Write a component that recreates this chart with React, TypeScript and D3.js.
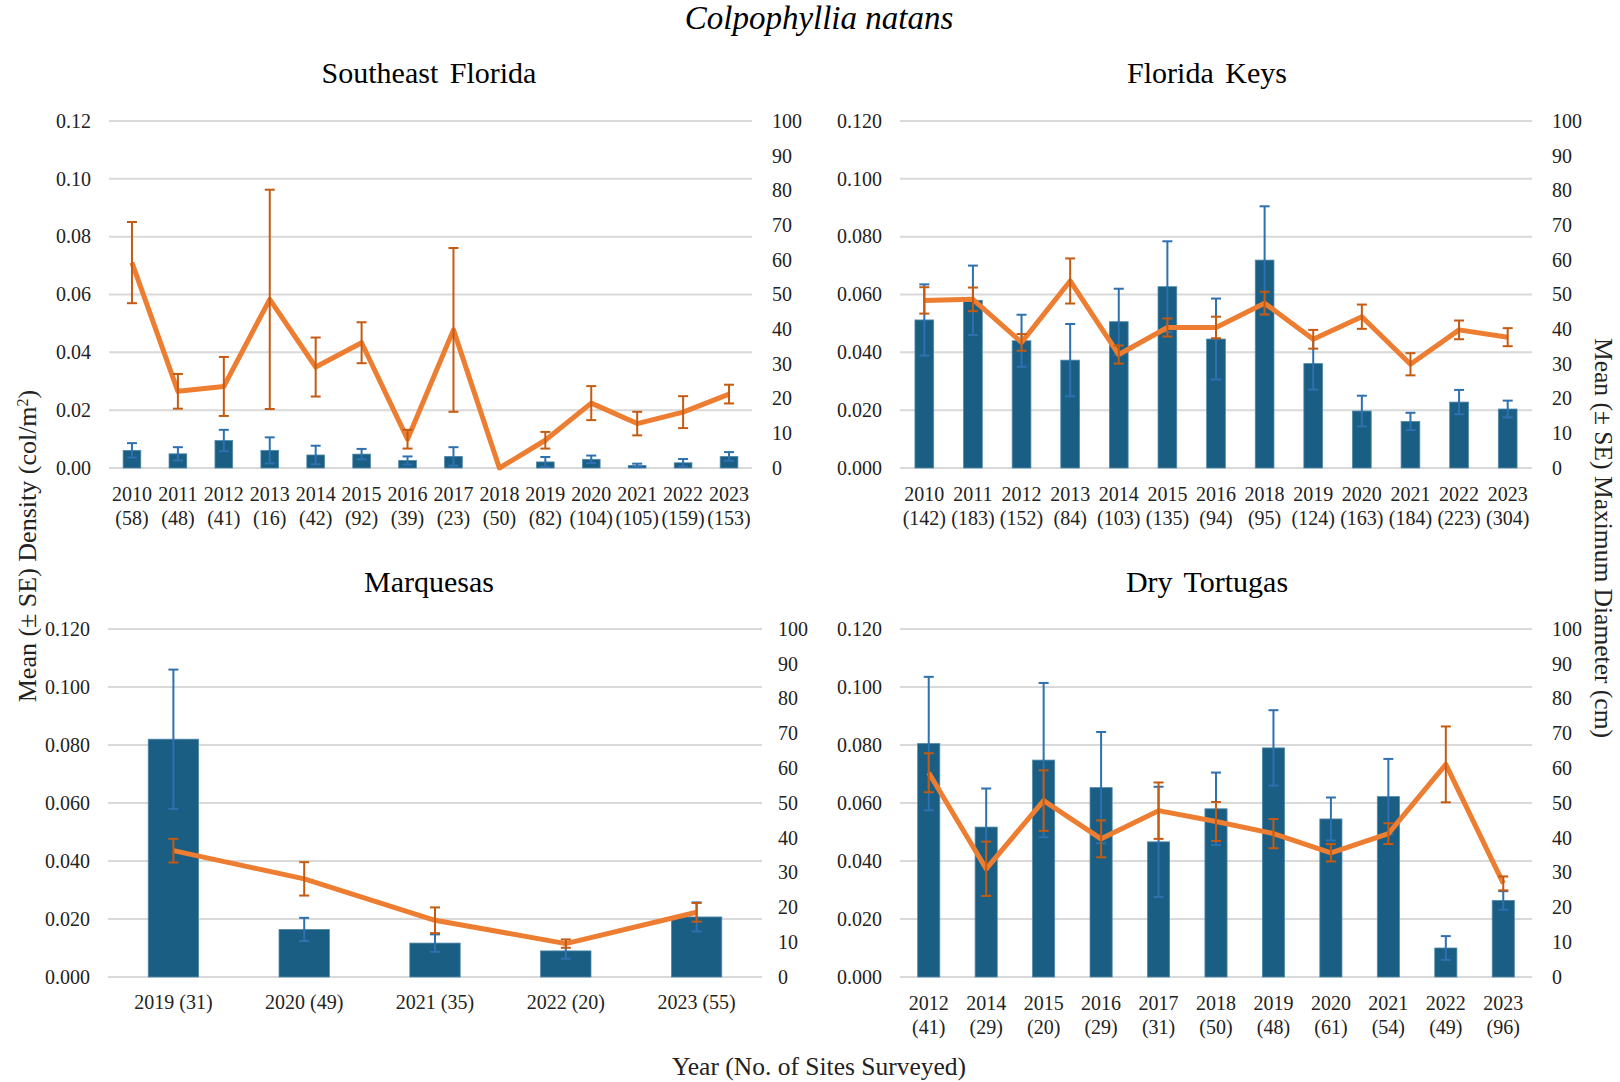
import React from 'react';
import * as d3 from 'd3';

const width = 1620;
const height = 1082;
const font = '"Liberation Serif", "Times New Roman", serif';

const barColor = '#1a5e83';
const barErrColor = '#2e70b0';
const lineColor = '#ed7d31';
const lineErrColor = '#c55a11';
const gridColor = '#d9d9d9';

// Southeast Florida
const seflYears = ['2010', '2011', '2012', '2013', '2014', '2015', '2016', '2017', '2018', '2019', '2020', '2021', '2022', '2023'];
const seflSites = [58, 48, 41, 16, 42, 92, 39, 23, 50, 82, 104, 105, 159, 153];
const seflDensity = [0.0061, 0.0049, 0.0095, 0.0061, 0.0045, 0.0048, 0.0026, 0.004, 0, 0.0021, 0.003, 0.0009, 0.0018, 0.004];
const seflDensitySE = [0.0025, 0.0023, 0.0037, 0.0045, 0.0032, 0.0018, 0.0014, 0.0032, 0, 0.0017, 0.0013, 0.0006, 0.0013, 0.0015];
const seflDiameter = [59.2, 22.1, 23.5, 48.6, 29.1, 36.1, 8.3, 39.8, 0, 8.0, 18.7, 12.8, 16.1, 21.3];
const seflDiameterSE = [11.7, 5.0, 8.5, 31.6, 8.5, 5.9, 2.7, 23.6, 0, 2.4, 4.9, 3.4, 4.6, 2.7];

// Florida Keys
const fkYears = ['2010', '2011', '2012', '2013', '2014', '2015', '2016', '2018', '2019', '2020', '2021', '2022', '2023'];
const fkSites = [142, 183, 152, 84, 103, 135, 94, 95, 124, 163, 184, 223, 304];
const fkDensity = [0.0512, 0.058, 0.044, 0.0373, 0.0506, 0.0627, 0.0446, 0.0719, 0.0361, 0.0197, 0.0161, 0.0228, 0.0204];
const fkDensitySE = [0.0123, 0.012, 0.009, 0.0125, 0.0114, 0.0157, 0.014, 0.0186, 0.009, 0.0053, 0.003, 0.0042, 0.0029];
const fkDiameter = [48.3, 48.6, 36.2, 53.9, 32.7, 40.5, 40.5, 47.5, 37.1, 43.6, 29.9, 39.8, 37.7];
const fkDiameterSE = [3.8, 3.4, 2.4, 6.5, 2.6, 2.6, 3.1, 3.3, 2.7, 3.5, 3.2, 2.7, 2.6];

// Marquesas
const mqYears = ['2019', '2020', '2021', '2022', '2023'];
const mqSites = [31, 49, 35, 20, 55];
const mqDensity = [0.082, 0.0164, 0.0117, 0.009, 0.0207];
const mqDensitySE = [0.024, 0.004, 0.003, 0.0027, 0.005];
const mqDiameter = [36.3, 28.2, 16.3, 9.6, 18.6];
const mqDiameterSE = [3.4, 4.8, 3.7, 1.2, 2.7];

// Dry Tortugas
const dtYears = ['2012', '2014', '2015', '2016', '2017', '2018', '2019', '2020', '2021', '2022', '2023'];
const dtSites = [41, 29, 20, 29, 31, 50, 48, 61, 54, 49, 96];
const dtDensity = [0.0805, 0.0517, 0.0748, 0.0653, 0.0466, 0.058, 0.079, 0.0545, 0.0622, 0.01, 0.0264];
const dtDensitySE = [0.023, 0.0133, 0.0266, 0.0192, 0.019, 0.0125, 0.013, 0.0074, 0.013, 0.0041, 0.0032];
const dtDiameter = [58.7, 31.1, 50.7, 39.7, 47.8, 44.7, 41.2, 35.7, 41.2, 61.1, 26.9];
const dtDiameterSE = [5.6, 7.8, 8.7, 5.3, 8.1, 5.6, 4.2, 2.5, 3.0, 10.9, 2.0];

const leftTicks = [0, 0.02, 0.04, 0.06, 0.08, 0.1, 0.12];
const rightTicks = [0, 10, 20, 30, 40, 50, 60, 70, 80, 90, 100];

type PanelProps = {
  title: string;
  titleX: number;
  titleY: number;
  years: string[];
  sites: number[];
  density: number[];
  densitySE: number[];
  diameter: number[];
  diameterSE: number[];
  x0: number;
  x1: number;
  y0: number;
  y1: number;
  leftLabelX: number;
  rightLabelX: number;
  decimals: number;
  oneLine?: boolean;
};

const ErrBar = ({ x, yHi, yLo, color, cap }: any) => (
  <g stroke={color} strokeWidth={2}>
    <line x1={x} x2={x} y1={yHi} y2={yLo} />
    <line x1={x - cap / 2} x2={x + cap / 2} y1={yHi} y2={yHi} />
    <line x1={x - cap / 2} x2={x + cap / 2} y1={yLo} y2={yLo} />
  </g>
);

const Panel = (p: PanelProps) => {
  const x = d3.scaleBand<string>().domain(p.years).range([p.x0, p.x1]).padding(0);
  const yL = d3.scaleLinear().domain([0, 0.12]).range([p.y0, p.y1]);
  const yR = d3.scaleLinear().domain([0, 100]).range([p.y0, p.y1]);
  const bw = x.bandwidth() * 0.385;
  const cx = (i: number) => (x(p.years[i]) as number) + x.bandwidth() / 2;
  const line = d3
    .line<number>()
    .x((_, i) => cx(i))
    .y((d) => yR(d));
  const fmt = d3.format(`.${p.decimals}f`);

  return (
    <g>
      <text x={p.titleX} y={p.titleY} textAnchor="middle" fontFamily={font} fontSize={30} fill="#000" style={{ wordSpacing: 4 }}>
        {p.title}
      </text>
      {leftTicks.map((t) => (
        <g key={t}>
          <line x1={p.x0} x2={p.x1} y1={yL(t)} y2={yL(t)} stroke={gridColor} strokeWidth={2} />
          <text x={p.leftLabelX} y={yL(t)} dy="0.34em" textAnchor="end" fontFamily={font} fontSize={20} fill="#222">
            {fmt(t)}
          </text>
        </g>
      ))}
      {rightTicks.map((t) => (
        <text key={t} x={p.rightLabelX} y={yR(t)} dy="0.34em" textAnchor="start" fontFamily={font} fontSize={20} fill="#222">
          {t}
        </text>
      ))}
      {p.density.map((d, i) =>
        d > 0 ? (
          <rect
            key={i}
            x={cx(i) - bw / 2}
            y={yL(d)}
            width={bw}
            height={yL(0) - yL(d)}
            fill={barColor}
            stroke="#4f88aa"
            strokeWidth={0.8}
          />
        ) : null
      )}
      {p.density.map((d, i) =>
        p.densitySE[i] > 0 ? (
          <ErrBar
            key={i}
            x={cx(i)}
            yHi={yL(d + p.densitySE[i])}
            yLo={yL(Math.max(0, d - p.densitySE[i]))}
            color={barErrColor}
            cap={10}
          />
        ) : null
      )}
      <path d={line(p.diameter) as string} fill="none" stroke={lineColor} strokeWidth={5} strokeLinejoin="round" />
      {p.diameter.map((d, i) =>
        p.diameterSE[i] > 0 ? (
          <ErrBar
            key={i}
            x={cx(i)}
            yHi={yR(d + p.diameterSE[i])}
            yLo={yR(Math.max(0, d - p.diameterSE[i]))}
            color={lineErrColor}
            cap={10}
          />
        ) : null
      )}
      {p.years.map((yr, i) =>
        p.oneLine ? (
          <text key={yr} x={cx(i)} y={p.y0 + 32} textAnchor="middle" fontFamily={font} fontSize={20} fill="#222">
            {`${yr} (${p.sites[i]})`}
          </text>
        ) : (
          <text key={yr} x={cx(i)} y={p.y0 + 33} textAnchor="middle" fontFamily={font} fontSize={20} fill="#222">
            <tspan x={cx(i)}>{yr}</tspan>
            <tspan x={cx(i)} dy={24}>{`(${p.sites[i]})`}</tspan>
          </text>
        )
      )}
    </g>
  );
};

export default function App() {
  return (
    <svg width={width} height={height} style={{ position: 'absolute', left: 0, top: 0, background: '#fff' }}>
      <rect width={width} height={height} fill="#fff" />
      <text x={819} y={29} textAnchor="middle" fontFamily={font} fontStyle="italic" fontSize={33} fill="#000">
        Colpophyllia natans
      </text>
      <Panel
        title="Southeast Florida"
        titleX={429}
        titleY={83}
        years={seflYears}
        sites={seflSites}
        density={seflDensity}
        densitySE={seflDensitySE}
        diameter={seflDiameter}
        diameterSE={seflDiameterSE}
        x0={109}
        x1={752}
        y0={468}
        y1={121}
        leftLabelX={91}
        rightLabelX={772}
        decimals={2}
      />
      <Panel
        title="Florida Keys"
        titleX={1207}
        titleY={83}
        years={fkYears}
        sites={fkSites}
        density={fkDensity}
        densitySE={fkDensitySE}
        diameter={fkDiameter}
        diameterSE={fkDiameterSE}
        x0={900}
        x1={1532}
        y0={468}
        y1={121}
        leftLabelX={882}
        rightLabelX={1552}
        decimals={3}
      />
      <Panel
        title="Marquesas"
        titleX={429}
        titleY={592}
        years={mqYears}
        sites={mqSites}
        density={mqDensity}
        densitySE={mqDensitySE}
        diameter={mqDiameter}
        diameterSE={mqDiameterSE}
        x0={108}
        x1={762}
        y0={977}
        y1={629}
        leftLabelX={90}
        rightLabelX={778}
        decimals={3}
        oneLine
      />
      <Panel
        title="Dry Tortugas"
        titleX={1207}
        titleY={592}
        years={dtYears}
        sites={dtSites}
        density={dtDensity}
        densitySE={dtDensitySE}
        diameter={dtDiameter}
        diameterSE={dtDiameterSE}
        x0={900}
        x1={1532}
        y0={977}
        y1={629}
        leftLabelX={882}
        rightLabelX={1552}
        decimals={3}
      />
      <text x={819} y={1075} textAnchor="middle" fontFamily={font} fontSize={25.5} fill="#222">
        Year (No. of Sites Surveyed)
      </text>
      <text
        transform="translate(36,546) rotate(-90)"
        textAnchor="middle"
        fontFamily={font}
        fontSize={26}
        fill="#222"
      >
        Mean (± SE) Density (col/m
        <tspan baselineShift="super" fontSize={16}>2</tspan>)
      </text>
      <text
        transform="translate(1595,538) rotate(90)"
        textAnchor="middle"
        fontFamily={font}
        fontSize={25.5}
        fill="#222"
      >
        Mean (± SE) Maximum Diameter (cm)
      </text>
    </svg>
  );
}
